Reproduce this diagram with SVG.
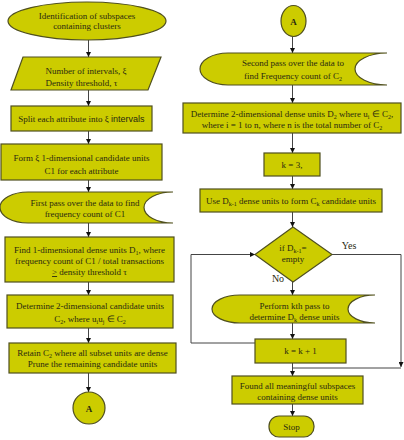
<svg xmlns="http://www.w3.org/2000/svg" width="404" height="440" viewBox="0 0 404 440">
<defs>
<style>
.s{fill:#cccc00;stroke:#4f4f1f;stroke-width:1.2}
.t{font-family:"Liberation Serif","Times New Roman",serif;font-size:9px;fill:#2a2a10;text-anchor:middle}
.b{font-weight:bold}
.sub{font-size:6px}
.c{fill:none;stroke:#444;stroke-width:1}
</style>
<marker id="ah" viewBox="0 0 10 10" refX="10" refY="5" markerWidth="5" markerHeight="5" orient="auto" markerUnits="userSpaceOnUse">
<path d="M0,0 L10,5 L0,10 Z" fill="#111"/>
</marker>
</defs>
<rect width="404" height="440" fill="#fff"/>

<g id="connectors">
<line class="c" x1="88.5" y1="40" x2="88.5" y2="57" marker-end="url(#ah)"/>
<line class="c" x1="88.5" y1="90" x2="88.5" y2="106" marker-end="url(#ah)"/>
<line class="c" x1="88.5" y1="131" x2="88.5" y2="144" marker-end="url(#ah)"/>
<line class="c" x1="88.5" y1="180" x2="88.5" y2="192" marker-end="url(#ah)"/>
<line class="c" x1="88.5" y1="223" x2="88.5" y2="237" marker-end="url(#ah)"/>
<line class="c" x1="88.5" y1="282" x2="88.5" y2="295" marker-end="url(#ah)"/>
<line class="c" x1="88.5" y1="328" x2="88.5" y2="343" marker-end="url(#ah)"/>
<line class="c" x1="88.5" y1="373" x2="88.5" y2="392" marker-end="url(#ah)"/>
<line class="c" x1="292.5" y1="36.5" x2="292.5" y2="53" marker-end="url(#ah)"/>
<line class="c" x1="292.5" y1="85" x2="292.5" y2="103" marker-end="url(#ah)"/>
<line class="c" x1="292.5" y1="133" x2="292.5" y2="153" marker-end="url(#ah)"/>
<line class="c" x1="292.5" y1="176" x2="292.5" y2="189" marker-end="url(#ah)"/>
<line class="c" x1="292.5" y1="212" x2="292.5" y2="227" marker-end="url(#ah)"/>
<line class="c" x1="292.5" y1="282" x2="292.5" y2="295" marker-end="url(#ah)"/>
<line class="c" x1="292.5" y1="323" x2="292.5" y2="339" marker-end="url(#ah)"/>
<line class="c" x1="292.5" y1="363" x2="292.5" y2="376" marker-end="url(#ah)"/>
<line class="c" x1="292.5" y1="404" x2="292.5" y2="416" marker-end="url(#ah)"/>
<polyline class="c" points="332,254.5 401,254.5 401,367" marker-end="url(#ah)"/>
<line class="c" x1="401" y1="368" x2="292.5" y2="368"/>
<polyline class="c" points="255,343 191,343 191,254.5 255,254.5" marker-end="url(#ah)"/>
<text class="t" x="349" y="249" style="font-size:10px">Yes</text>
<text class="t" x="278" y="282" style="font-size:10px">No</text>
</g>

<g id="n1">
<ellipse class="s" cx="87" cy="21" rx="79" ry="19"/>
<text class="t" x="87" y="18.5">Identification of subspaces</text>
<text class="t" x="87" y="29">containing clusters</text>
</g>

<g id="n2">
<polygon class="s" points="23,57 161,57 148,90 11,90"/>
<text class="t" x="45.5" y="74" style="text-anchor:start">Number of intervals, ξ</text>
<text class="t" x="45.5" y="86" style="text-anchor:start">Density threshold, τ</text>
</g>

<g id="n3">
<rect class="s" x="11" y="106" width="141" height="25"/>
<text class="t" x="81.5" y="122">Split each attribute into ξ <tspan style="font-family:'Liberation Sans',Arial,sans-serif">intervals</tspan></text>
</g>

<g id="n4">
<rect class="s" x="1" y="144" width="161" height="36"/>
<text class="t" x="81.5" y="161">Form ξ 1-dimensional candidate units</text>
<text class="t" x="81.5" y="174">C1 for each attribute</text>
</g>

<g id="n5">
<path class="s" d="M28,192 L173,192 A29,15.5 0 0 0 173,223 L28,223 A28,15.5 0 0 1 28,192 Z"/>
<text class="t" x="85" y="205.5">First pass over the data to find</text>
<text class="t" x="85" y="216.5">frequency count of C1</text>
</g>

<g id="n6">
<rect class="s" x="5" y="237" width="169" height="45"/>
<text class="t" x="89.5" y="253">Find 1-dimensional dense units D<tspan class="sub" dy="2">1</tspan><tspan dy="-2">, where</tspan></text>
<text class="t" x="89.5" y="264">frequency count of  C1 / total transactions</text>
<text class="t" x="89.5" y="275"><tspan text-decoration="underline">&gt;</tspan> density threshold τ</text>
</g>

<g id="n7">
<rect class="s" x="7" y="295" width="166" height="33"/>
<text class="t" x="90" y="309">Determine 2-dimensional candidate units</text>
<text class="t" x="90" y="322">C<tspan class="sub" dy="2">2</tspan><tspan dy="-2">, where u</tspan><tspan class="sub" dy="2">i</tspan><tspan dy="-2">u</tspan><tspan class="sub" dy="2">j</tspan><tspan dy="-2"> ∈ C</tspan><tspan class="sub" dy="2">2</tspan></text>
</g>

<g id="n8">
<rect class="s" x="9" y="343" width="167" height="30"/>
<text class="t" x="92.5" y="356">Retain C<tspan class="sub" dy="2">2</tspan><tspan dy="-2"> where all subset units are dense</tspan></text>
<text class="t" x="92.5" y="367">Prune the remaining candidate units</text>
</g>

<g id="n9">
<circle class="s" cx="89" cy="408" r="16"/>
<text class="t b" x="89" y="411.5">A</text>
</g>

<g id="r1">
<ellipse class="s" cx="293.5" cy="21" rx="12.5" ry="15.5"/>
<text class="t b" x="293.5" y="24.5">A</text>
</g>

<g id="r2">
<path class="s" d="M228,53 L387,53 A32,16 0 0 0 387,85 L228,85 A28,16 0 0 1 228,53 Z"/>
<text class="t" x="293" y="66">Second pass over the data to</text>
<text class="t" x="293" y="79">find Frequency count of  C<tspan class="sub" dy="2">2</tspan></text>
</g>

<g id="r3">
<rect class="s" x="183" y="103" width="218" height="30"/>
<text class="t" x="292" y="117">Determine 2-dimensional dense units D<tspan class="sub" dy="2">2</tspan><tspan dy="-2"> where u</tspan><tspan class="sub" dy="2">i</tspan><tspan dy="-2"> ∈ C</tspan><tspan class="sub" dy="2">2</tspan><tspan dy="-2">,</tspan></text>
<text class="t" x="292" y="128">where i = 1 to n, where n is the total number of C<tspan class="sub" dy="2">2</tspan></text>
</g>

<g id="r4">
<rect class="s" x="264" y="153" width="56" height="23"/>
<text class="t" x="292" y="168">k = 3,</text>
</g>

<g id="r5">
<rect class="s" x="200" y="189" width="182" height="23"/>
<text class="t" x="291" y="204">Use D<tspan class="sub" dy="2">k-1</tspan><tspan dy="-2"> dense units to form C</tspan><tspan class="sub" dy="2">k</tspan><tspan dy="-2"> candidate units</tspan></text>
</g>

<g id="r6">
<polygon class="s" points="293,227 332,254.5 293,282 255,254.5"/>
<text class="t" x="293" y="251">if D<tspan class="sub" dy="2">k-1</tspan><tspan dy="-2">=</tspan></text>
<text class="t" x="293" y="262">empty</text>
</g>

<g id="r7">
<path class="s" d="M240,295 L375,295 A27,14 0 0 0 375,323 L240,323 A28,14 0 0 1 240,295 Z"/>
<text class="t" x="294.5" y="309">Perform kth pass to</text>
<text class="t" x="294.5" y="319.5">determine D<tspan class="sub" dy="2">k</tspan><tspan dy="-2"> dense units</tspan></text>
</g>

<g id="r8">
<rect class="s" x="255" y="339" width="91" height="24"/>
<text class="t" x="300.5" y="354">k = k + 1</text>
</g>

<g id="r9">
<rect class="s" x="232" y="376" width="131" height="28"/>
<text class="t" x="297.5" y="388.5">Found all meaningful subspaces</text>
<text class="t" x="297.5" y="399.5">containing dense units</text>
</g>

<g id="r10">
<rect class="s" x="269" y="416" width="45" height="21" rx="10" ry="10"/>
<text class="t" x="291.5" y="429.5">Stop</text>
</g>
</svg>
